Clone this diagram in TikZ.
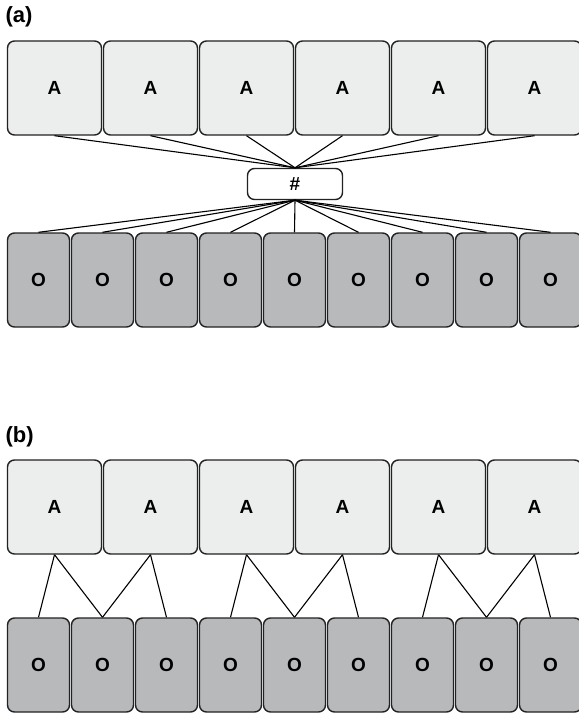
\documentclass[tikz,border=0pt]{standalone}
\usepackage{fontspec}
\setsansfont{Liberation Sans}
\usetikzlibrary{positioning}
\definecolor{cellA}{HTML}{ECEDED}
\definecolor{cellO}{HTML}{B8B9BB}
\definecolor{rim}{HTML}{222222}

\begin{document}
\begin{tikzpicture}[x=1pt,y=-1pt,
  abox/.style={draw=rim, line width=1.4pt, rounded corners=7pt, fill=cellA, minimum width=94pt, minimum height=94pt, font=\fontsize{19}{22}\selectfont\sffamily\bfseries},
  obox/.style={abox, fill=cellO, minimum width=62pt},
  hubbox/.style={abox, fill=white, minimum height=31pt, minimum width=95pt},
  link/.style={draw=black, line width=1.1pt},
  panel/.style={font=\fontsize{22}{24}\selectfont\sffamily\bfseries, anchor=west}
]
  \useasboundingbox (0,0) rectangle (578,717);

  % (a) every cell through one hub
  \node[panel] (la) at (2,17) {(a)};
  \foreach \i in {1,...,6}
    \node[abox] (aa\i) at ({54.5+96*(\i-1)},88) {A};
  \node[hubbox] (hub) at (295,184) {\#};
  \foreach \i in {1,...,9}
    \node[obox] (ao\i) at ({38.5+64*(\i-1)},280) {O};
  \foreach \i in {1,...,6}
    \draw[link] (aa\i.south) -- (hub.north);
  \foreach \i in {1,...,9}
    \draw[link] (ao\i.north) -- (hub.south);

  % (b) local links only
  \node[panel] (lb) at (2,437) {(b)};
  \foreach \i in {1,...,6}
    \node[abox] (ba\i) at ({54.5+96*(\i-1)},507) {A};
  \foreach \i in {1,...,9}
    \node[obox] (bo\i) at ({38.5+64*(\i-1)},665) {O};
  \foreach \a/\o in {1/1,1/2,2/2,2/3,3/4,3/5,4/5,4/6,5/7,5/8,6/8,6/9}
    \draw[link] (ba\a.south) -- (bo\o.north);
\end{tikzpicture}
\end{document}
